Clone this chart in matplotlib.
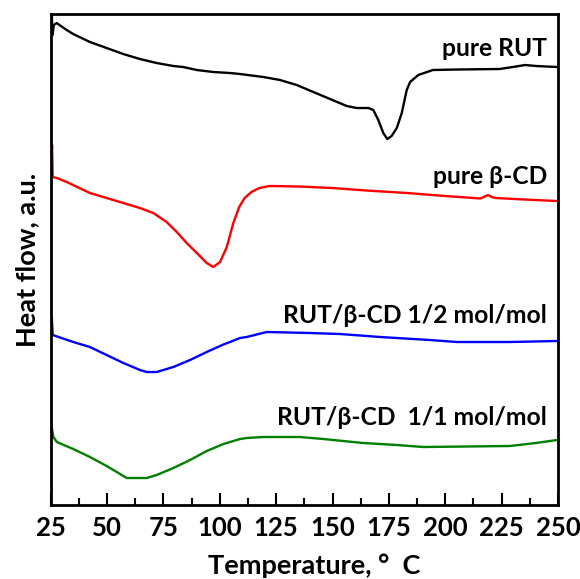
import matplotlib
matplotlib.use("Agg")
import matplotlib.pyplot as plt
from matplotlib.ticker import MultipleLocator

# Data (temperature in °C, heat flow in arbitrary offset units)
rut_T = [25.0, 25.5, 25.8, 26.4, 27.6, 32.1, 35.0, 42.4, 49.8, 57.2, 64.6, 72.0, 79.4, 83.8, 89.8,
         97.1, 104.5, 109.0, 119.3, 126.7, 134.1, 141.5, 148.9, 156.3, 160.7, 165.9, 168.1,
         170.3, 172.5, 174.3, 176.2, 178.5, 180.7, 182.9, 184.4, 188.0, 194.5, 205.0, 224.0,
         230.0, 235.4, 240.4, 249.5]
rut_Y = [475, 490, 470, 480, 482, 475, 471, 463, 457, 451, 446, 442, 439, 438, 435,
         433, 432, 431, 428, 425, 420, 413, 406, 399, 397, 397, 395,
         385, 372, 366, 369, 377, 392, 415, 423, 430, 435, 435.5, 436,
         438, 440, 439, 438]

bcd_T = [25.0, 25.6, 25.9, 27.7, 32.1, 42.4, 49.8, 57.2, 64.6, 70.5, 76.4, 80.9, 85.3, 89.8,
         94.2, 97.1, 100.1, 103.1, 106.0, 108.6, 111.0, 114.0, 117.5, 122.0, 135.0, 150.0,
         165.0, 183.0, 200.0, 212.6, 215.5, 218.0, 219.0, 220.5, 222.4, 235.0, 249.5]
bcd_Y = [327, 360, 328, 327, 323, 312, 307, 302, 297, 292, 283, 273, 262, 252,
         242, 238, 243, 258, 282, 298, 307, 313, 317, 319, 318.5, 317,
         314.5, 312, 309, 307, 306.5, 309, 310, 308, 307, 305.5, 304]

mix12_T = [25.0, 25.5, 25.9, 35.0, 42.4, 49.8, 57.2, 64.6, 67.6, 72.0, 79.4, 86.8, 94.2, 101.6,
           104.5, 109.0, 111.9, 120.8, 140.0, 153.3, 171.1, 193.2, 205.1, 228.6, 249.5]
mix12_Y = [169, 187, 170, 163, 158, 150, 142, 135, 133, 133, 138, 145, 153, 160.5,
           163, 167, 168, 173, 172, 171, 168, 165, 163, 163, 164]

mix11_T = [25.0, 25.5, 26.2, 27.7, 35.0, 42.4, 49.8, 54.3, 58.7, 67.6, 72.0, 79.4, 86.8, 94.2,
           101.6, 104.5, 109.0, 111.9, 119.3, 135.5, 145.9, 163.6, 178.5, 190.3, 228.6,
           240.2, 249.5]
mix11_Y = [74, 77, 68, 63, 56, 48, 39, 33, 27, 27, 30, 37, 45, 54,
           61, 63, 66, 67, 68, 68, 66, 62, 60, 58, 59,
           62, 65]

labels = ["pure RUT", "pure β-CD", "RUT/β-CD 1/2 mol/mol", "RUT/β-CD  1/1 mol/mol"]
label_y = [457, 329, 190, 88]
colors = ["black", "red", "blue", "green"]

x_ticks = [25, 50, 75, 100, 125, 150, 175, 200, 225, 250]

plt.rcParams['font.family'] = ['Lato', 'DejaVu Sans']

fig = plt.figure(figsize=(5.8, 5.79), dpi=100)
ax = fig.add_axes([0.0874, 0.1278, 0.8747, 0.848])

series = [(rut_T, rut_Y), (bcd_T, bcd_Y), (mix12_T, mix12_Y), (mix11_T, mix11_Y)]
for (t, y), c in zip(series, colors):
    ax.plot(t, y, color=c, lw=1.7, solid_joinstyle='round', solid_capstyle='round')

for lab, ly in zip(labels, label_y):
    ax.text(245.2, ly, lab, ha='right', va='center', fontsize=17.7, fontweight='bold',
            family=['Lato', 'DejaVu Sans'])

ax.set_xlim(25, 250)
ax.set_ylim(0, 491)
ax.set_xticks(x_ticks)
ax.set_xticklabels([str(v) for v in x_ticks])
ax.xaxis.set_minor_locator(MultipleLocator(12.5))
ax.set_yticks([])
ax.tick_params(axis='x', which='major', direction='in', length=9, width=1.5,
               labelsize=18.5, pad=8)
ax.tick_params(axis='x', which='minor', direction='in', length=5, width=1.5)
for lbl in ax.get_xticklabels():
    lbl.set_fontweight('bold')
for s in ax.spines.values():
    s.set_linewidth(2)

ax.set_xlabel("Temperature, °  C", fontsize=19.5, fontweight='bold')
ax.xaxis.set_label_coords(0.52, -0.098)
ax.set_ylabel("Heat flow, a.u.", fontsize=19.5, fontweight='bold')
ax.yaxis.set_label_coords(-0.022, 0.5)

fig.savefig("out.png", dpi=100)
